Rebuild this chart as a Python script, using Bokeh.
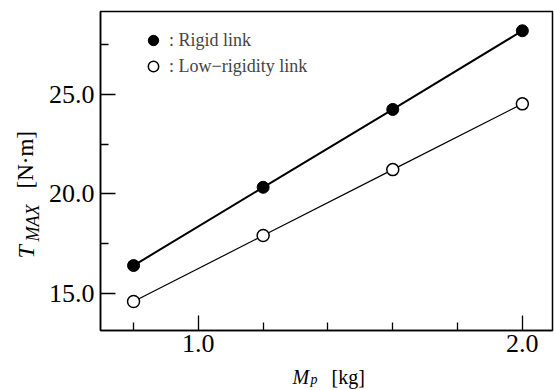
import math
from bokeh.plotting import figure
from bokeh.layouts import row, column
from bokeh.models import Range1d, FixedTicker, Legend, LegendItem
from bokeh.core.properties import value
from bokeh.embed import file_html
from bokeh.resources import INLINE

# ---- data ----
mass_kg = [0.8, 1.2, 1.6, 2.0]
rigid_tmax = [16.39, 20.33, 24.25, 28.21]
low_rigidity_tmax = [14.58, 17.90, 21.22, 24.53]
x_major_ticks = [1.0, 2.0]
x_minor_ticks = [0.8, 1.2, 1.4, 1.6, 1.8]
y_major_ticks = [15.0, 20.0, 25.0]
y_minor_ticks = [17.5, 22.5, 27.5]
legend_labels = [": Rigid link", ": Low\u2212rigidity link"]

FONT = "Liberation Serif"
X0, X1 = 0.698, 2.093
Y0, Y1 = 13.12, 29.18

TOTAL_W, TOTAL_H = 554, 390
LEFT_W = 44
BOTTOM_H = 26
PW, PH = TOTAL_W - LEFT_W, TOTAL_H - BOTTOM_H
FRAME_L, FRAME_R = 100, 552

p = figure(width=PW, height=PH, output_backend="svg", toolbar_location=None,
           title=None,
           x_range=Range1d(X0, X1), y_range=Range1d(Y0, Y1),
           min_border_left=FRAME_L - LEFT_W, min_border_right=TOTAL_W - FRAME_R,
           min_border_top=11, min_border_bottom=PH - 330)
p.grid.visible = False
p.background_fill_color = "white"
p.border_fill_color = "white"
p.outline_line_color = "black"
p.outline_line_width = 1.5

for ax in (p.xaxis[0], p.yaxis[0]):
    ax.axis_line_color = "black"
    ax.axis_line_width = 1.5
    ax.major_tick_in = 15
    ax.major_tick_out = 0
    ax.minor_tick_in = 8
    ax.minor_tick_out = 0
    ax.major_tick_line_width = 1.3
    ax.minor_tick_line_width = 1.3
    ax.major_label_text_font = FONT
    ax.major_label_text_font_size = "26px"
    ax.major_label_text_color = "black"

p.xaxis.ticker = FixedTicker(ticks=x_major_ticks, minor_ticks=x_minor_ticks)
p.yaxis.ticker = FixedTicker(ticks=y_major_ticks, minor_ticks=y_minor_ticks)
p.xaxis.major_label_overrides = {t: f"{t:.1f}" for t in x_major_ticks}
p.yaxis.major_label_overrides = {t: f"{t:.1f}" for t in y_major_ticks}
p.xaxis.major_label_standoff = 4
p.yaxis.major_label_standoff = 6

# ---- series ----
p.line(mass_kg, rigid_tmax, line_color="black", line_width=2)
s1 = p.scatter(mass_kg, rigid_tmax, marker="circle", size=12,
               fill_color="black", line_color="black", line_width=1)
p.line(mass_kg, low_rigidity_tmax, line_color="black", line_width=1.2)
s2 = p.scatter(mass_kg, low_rigidity_tmax, marker="circle", size=12,
               fill_color="white", line_color="black", line_width=1.5)

legend = Legend(items=[LegendItem(label=legend_labels[0], renderers=[s1]),
                       LegendItem(label=legend_labels[1], renderers=[s2])],
                location=(40, 251), glyph_width=26, glyph_height=26,
                label_height=26, label_standoff=3, spacing=0, padding=0, margin=0,
                border_line_alpha=0, background_fill_alpha=0,
                label_text_font=FONT, label_text_font_size="18px")
p.add_layout(legend, "center")


def strip(w, h, x_lo, x_hi):
    # bare figure whose data units are page pixels (y measured upward from page bottom)
    f = figure(width=w, height=h, output_backend="svg", toolbar_location=None,
               title=None,
               x_range=Range1d(x_lo, x_hi), y_range=Range1d(0, h),
               x_axis_type=None, y_axis_type=None,
               min_border=0, min_border_left=0, min_border_right=0,
               min_border_top=0, min_border_bottom=0)
    f.grid.visible = False
    f.outline_line_color = None
    f.background_fill_color = "white"
    f.border_fill_color = "white"
    return f


def put(f, txt, px, py, size, italic=False, angle=0.0):
    f.text(x=[px], y=[TOTAL_H - py], text=[txt], angle=angle,
           text_font=value(FONT), text_font_size=value(size),
           text_font_style=value("italic" if italic else "normal"),
           text_align=value("left"), text_baseline=value("middle"),
           text_color="black")


# y-axis title strip (rotated text, reads bottom to top)
left = strip(LEFT_W, TOTAL_H, 0, LEFT_W)
rot = math.pi / 2
put(left, "T", 25, 258, "24px", italic=True, angle=rot)
put(left, "MAX", 32, 241, "18px", italic=True, angle=rot)
put(left, "[N\u00b7m]", 25, 188, "23px", angle=rot)

# x-axis title strip (its frame is aligned with the main frame: 100..552)
bottom = strip(PW, BOTTOM_H, FRAME_L, FRAME_R)
put(bottom, "M", 292, 376, "20px", italic=True)
put(bottom, "p", 310, 379, "14px", italic=True)
put(bottom, "[kg]", 331, 376, "20px")

layout = row(left, column(p, bottom, spacing=0), spacing=0)

open("out.html", "w").write(file_html(layout, INLINE))
